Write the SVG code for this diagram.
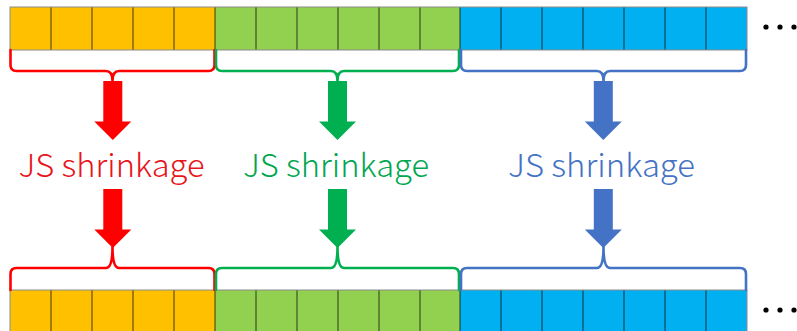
<svg xmlns="http://www.w3.org/2000/svg" width="797" height="331" viewBox="0 0 797 331">
<style>
.o{fill:#FFC000}
.g{fill:#92D050}
.b{fill:#00B0F0}
.div{stroke:#000;stroke-opacity:0.6;stroke-width:1.2;fill:none}
.edge{stroke:#8c8c8c;stroke-width:1;fill:none}
.brace{fill:none;stroke-width:2.6;stroke-linejoin:round;stroke-linecap:round}
.lbl{font-family:"Noto Sans CJK JP","Noto Sans",sans-serif;font-size:32px;font-weight:300;text-anchor:middle}
.dot{fill:#000}
</style>
<defs>
<path id="arr" d="M-9.5,0 H9.5 V40.5 H18.5 L0,59 L-18.5,40.5 H-9.5 Z"/>
</defs>
<g id="row-top">
<rect class="o" x="10" y="7" width="205" height="43"/>
<rect class="g" x="215" y="7" width="245" height="43"/>
<rect class="b" x="460" y="7" width="287" height="43"/>
<path class="div" d="M51,7V50M92,7V50M133,7V50M174,7V50M215,7V50M256,7V50M297,7V50M338,7V50M379,7V50M420,7V50M460,7V50M501,7V50M542,7V50M583,7V50M624,7V50M665,7V50M706,7V50"/>
<rect class="edge" x="10" y="7" width="737" height="43"/>
<circle class="dot" cx="766" cy="27" r="2.6"/><circle class="dot" cx="780" cy="27" r="2.6"/><circle class="dot" cx="794" cy="27" r="2.6"/>
</g>
<g id="row-bottom">
<rect class="o" x="10" y="290" width="205" height="43"/>
<rect class="g" x="215" y="290" width="245" height="43"/>
<rect class="b" x="460" y="290" width="287" height="43"/>
<path class="div" d="M51,290V333M92,290V333M133,290V333M174,290V333M215,290V333M256,290V333M297,290V333M338,290V333M379,290V333M420,290V333M460,290V333M501,290V333M542,290V333M583,290V333M624,290V333M665,290V333M706,290V333"/>
<rect class="edge" x="10" y="290" width="737" height="43"/>
<circle class="dot" cx="766" cy="310" r="2.6"/><circle class="dot" cx="780" cy="310" r="2.6"/><circle class="dot" cx="794" cy="310" r="2.6"/>
</g>
<g id="connectors">
<path class="brace" stroke="#FF0000" d="M10.5,50 V65 Q10.5,71 16.5,71 H106 Q112.5,71 112.5,81 Q112.5,71 119,71 H208.5 Q214.5,71 214.5,65 V50"/>
<path class="brace" stroke="#00B050" d="M216,50 V65 Q216,71 222,71 H331 Q337.5,71 337.5,81 Q337.5,71 344,71 H453 Q459,71 459,65 V50"/>
<path class="brace" stroke="#4472C4" d="M461,50 V65 Q461,71 467,71 H597 Q603.5,71 603.5,81 Q603.5,71 610,71 H740 Q746,71 746,65 V50"/>
<path class="brace" stroke="#FF0000" d="M10.5,290 V274 Q10.5,268 16.5,268 H106 Q112.5,268 112.5,247 Q112.5,268 119,268 H208.5 Q214.5,268 214.5,274 V290"/>
<path class="brace" stroke="#00B050" d="M216,290 V274 Q216,268 222,268 H331 Q337.5,268 337.5,247 Q337.5,268 344,268 H453 Q459,268 459,274 V290"/>
<path class="brace" stroke="#4472C4" d="M461,290 V274 Q461,268 467,268 H597 Q603.5,268 603.5,247 Q603.5,268 610,268 H740 Q746,268 746,274 V290"/>
<use href="#arr" x="112.8" y="81" fill="#FF0000"/>
<use href="#arr" x="337.5" y="81" fill="#00B050"/>
<use href="#arr" x="603.3" y="81" fill="#4472C4"/>
<use href="#arr" x="112.8" y="189" fill="#FF0000"/>
<use href="#arr" x="337.5" y="189" fill="#00B050"/>
<use href="#arr" x="603.3" y="189" fill="#4472C4"/>
</g>
<g id="label-red"><text class="lbl" x="111.5" y="177" fill="#E8141C" textLength="186" lengthAdjust="spacingAndGlyphs">JS shrinkage</text></g>
<g id="label-green"><text class="lbl" x="336" y="177" fill="#00A650" textLength="186" lengthAdjust="spacingAndGlyphs">JS shrinkage</text></g>
<g id="label-blue"><text class="lbl" x="601.5" y="177" fill="#4472C4" textLength="187" lengthAdjust="spacingAndGlyphs">JS shrinkage</text></g>
</svg>
